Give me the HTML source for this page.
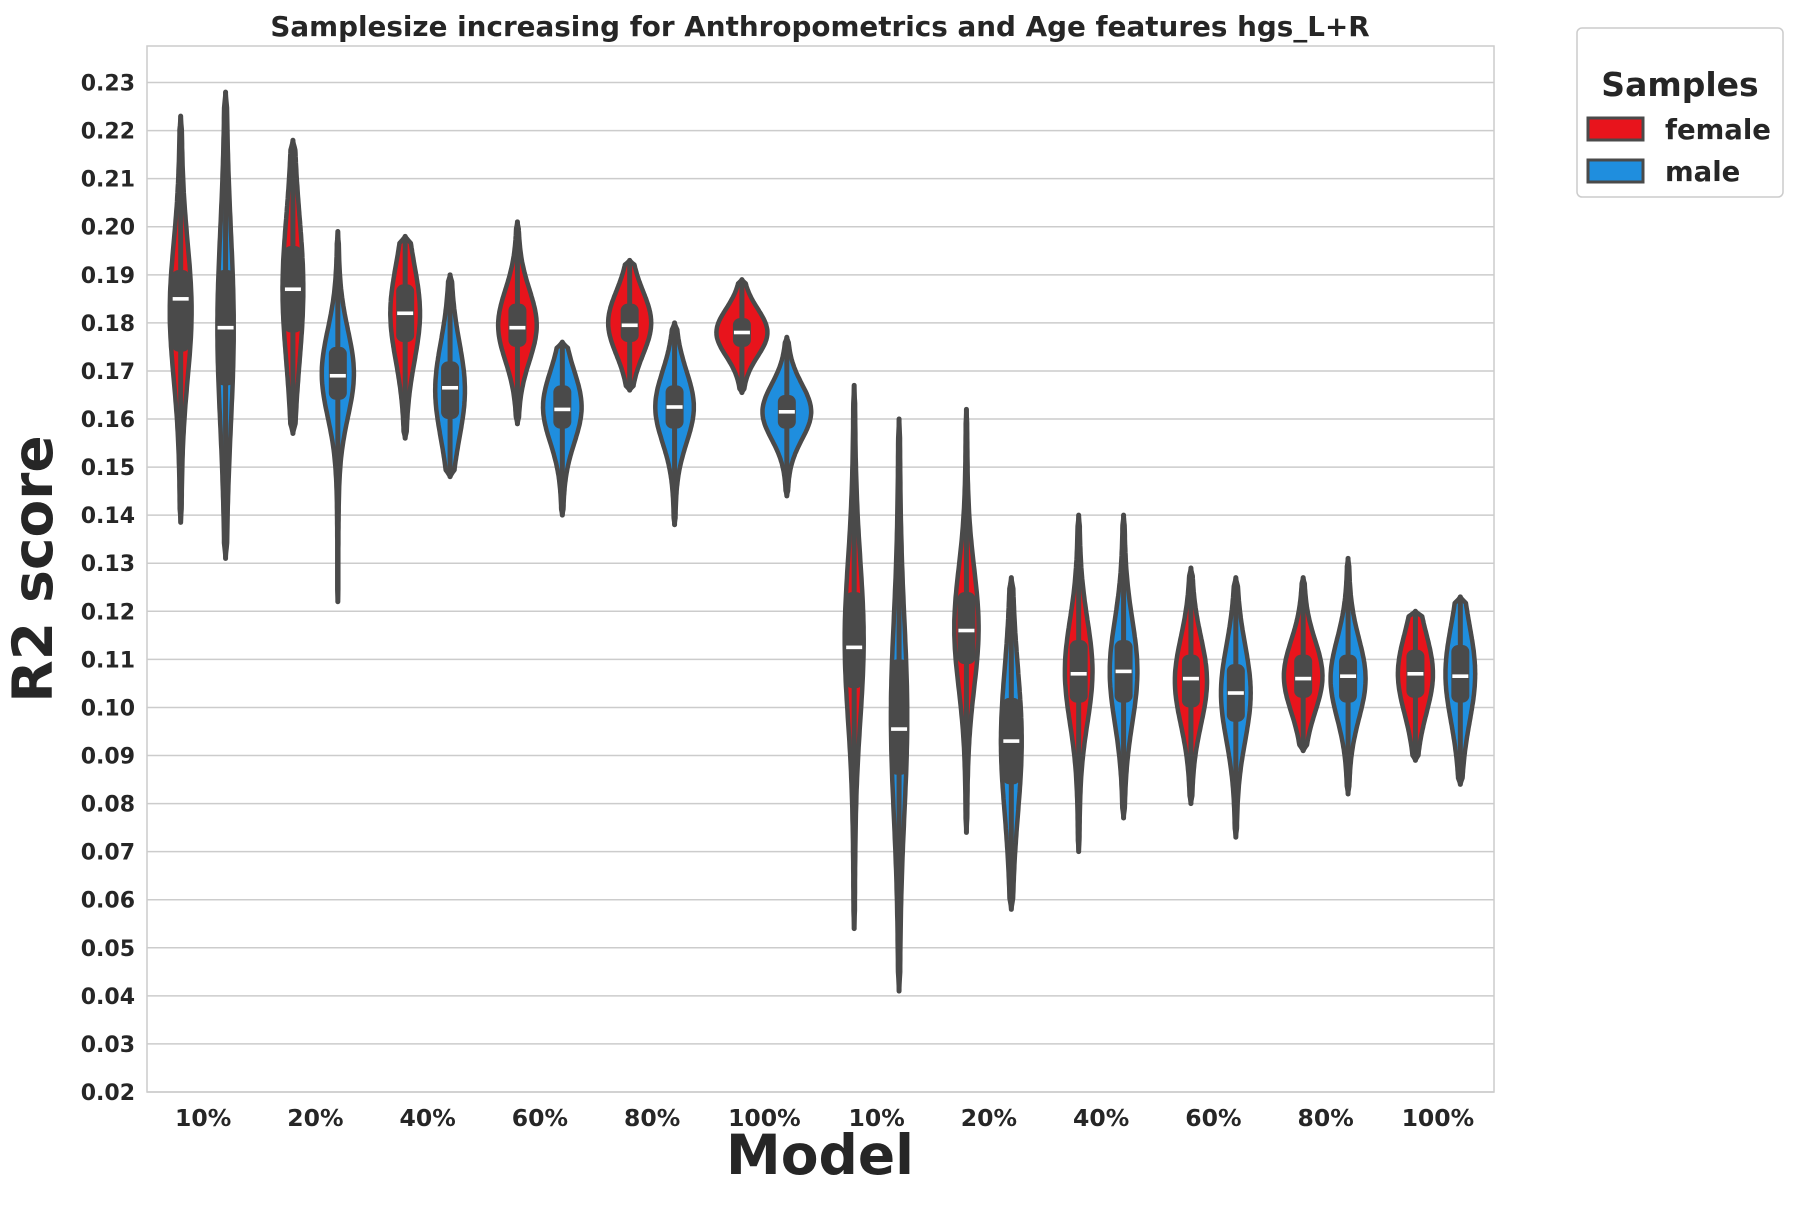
<!DOCTYPE html>
<html><head><meta charset="utf-8"><style>
html,body{margin:0;padding:0;background:#fff;}
svg text{font-family:"DejaVu Sans","Liberation Sans",sans-serif;font-weight:bold;fill:#262626;}
</style></head><body>
<svg id="chart" width="1800" height="1200" viewBox="0 0 1800 1200" xmlns="http://www.w3.org/2000/svg">
<g id="grid"></g>
<g id="violins"></g>
<rect x="147" y="46" width="1347" height="1046" fill="none" stroke="#cccccc" stroke-width="1.5"/>
<g id="yticks"></g>
<g id="xticks"></g>
<text x="820" y="36" text-anchor="middle" font-size="27.8">Samplesize increasing for Anthropometrics and Age features hgs_L+R</text>
<text transform="translate(52,569) rotate(-90)" text-anchor="middle" font-size="55">R2 score</text>
<text x="820" y="1174" text-anchor="middle" font-size="55">Model</text>
<g>
<rect x="1577" y="28" width="206" height="169" rx="5" fill="#fff" stroke="#cccccc" stroke-width="1.5"/>
<text x="1680" y="96" text-anchor="middle" font-size="33">Samples</text>
<g><rect x="1588" y="118" width="55" height="22" fill="#e8141c" stroke="#4a4a4a" stroke-width="3"/><text x="1665" y="139" font-size="27.5">female</text></g>
<g><rect x="1588" y="160" width="55" height="22" fill="#1f8ede" stroke="#4a4a4a" stroke-width="3"/><text x="1665" y="181" font-size="27.5">male</text></g>
</g>
</svg>
<script>
const categories=["10%","20%","40%","60%","80%","100%","10%","20%","40%","60%","80%","100%"];
const yTicks=[0.02,0.03,0.04,0.05,0.06,0.07,0.08,0.09,0.10,0.11,0.12,0.13,0.14,0.15,0.16,0.17,0.18,0.19,0.20,0.21,0.22,0.23];
const femaleMin=[0.1385,0.157,0.156,0.159,0.166,0.1655,0.054,0.074,0.070,0.080,0.091,0.089];
const femaleMax=[0.223,0.218,0.198,0.201,0.193,0.189,0.167,0.162,0.140,0.129,0.127,0.120];
const femaleQ1=[0.174,0.178,0.176,0.175,0.176,0.175,0.104,0.109,0.101,0.100,0.102,0.102];
const femaleMedian=[0.185,0.187,0.182,0.179,0.1795,0.178,0.1125,0.116,0.107,0.106,0.106,0.107];
const femaleQ3=[0.191,0.196,0.188,0.184,0.184,0.181,0.124,0.124,0.114,0.111,0.111,0.112];
const maleMin=[0.131,0.122,0.148,0.140,0.138,0.144,0.041,0.058,0.077,0.073,0.082,0.084];
const maleMax=[0.228,0.199,0.190,0.176,0.180,0.177,0.160,0.127,0.140,0.127,0.131,0.123];
const maleQ1=[0.167,0.164,0.160,0.158,0.158,0.158,0.086,0.084,0.101,0.097,0.101,0.101];
const maleMedian=[0.179,0.169,0.1665,0.162,0.1625,0.1615,0.0955,0.093,0.1075,0.103,0.1065,0.1065];
const maleQ3=[0.191,0.175,0.172,0.167,0.167,0.165,0.110,0.102,0.114,0.109,0.111,0.113];

const L=147,R=1494,T=46,B=1092,Y0=0.02,Y1=0.2376;
const bw=(R-L)/categories.length;
function yScale(v){return B-(v-Y0)/(Y1-Y0)*(B-T);}
function xScale(i){return L+(i+0.5)*bw;}
const NS="http://www.w3.org/2000/svg";
function mk(tag,attrs,parent){const e=document.createElementNS(NS,tag);for(const k in attrs)e.setAttribute(k,attrs[k]);parent.appendChild(e);return e;}
const grid=document.getElementById('grid'),yt=document.getElementById('yticks'),xt=document.getElementById('xticks'),vg=document.getElementById('violins');
yTicks.forEach(v=>{
  const l=mk('line',{x1:L,x2:R,y1:yScale(v),y2:yScale(v),stroke:'#cccccc','stroke-width':1.5},grid);
  
  
  const t=mk('text',{x:L-12,y:yScale(v)+8,'text-anchor':'end','font-size':22},yt);
  t.textContent=v.toFixed(2);
  
  
});
categories.forEach((c,i)=>{
  const t=mk('text',{x:xScale(i),y:B+34,'text-anchor':'middle','font-size':23.5},xt);
  t.textContent=c;
  
  
});
function violin(cx,mn,mx,q1,md,q3,color,name){
  const g=mk('g',{},vg);
  
  
  const iqr=q3-q1, s=iqr/1.35;
  let peak=Math.min(0.16/iqr,24);
  const lo=mn, hi=mx, n=90;
  const pts=[];
  const c=(q1+q3)/2;
  for(let k=0;k<=n;k++){
    const v=lo+(hi-lo)*k/n;
    let w=peak*Math.exp(-0.5*Math.pow((v-c)/(s*1.1),2));
    w+=1.5*Math.exp(-0.5*Math.pow((v-c)/(s*3),2));
    const edge=Math.min(v-lo,hi-v)/(hi-lo);
    w=Math.max(w,0.5)*Math.min(1,edge*30);
    pts.push([v,w]);
  }
  let d='';
  pts.forEach((p,k)=>{d+=(k?'L':'M')+(cx-p[1]).toFixed(1)+','+yScale(p[0]).toFixed(1);});
  for(let k=pts.length-1;k>=0;k--){d+='L'+(cx+pts[k][1]).toFixed(1)+','+yScale(pts[k][0]).toFixed(1);}
  d+='Z';
  mk('path',{d:d,fill:color,stroke:'#4a4a4a','stroke-width':4.5,'stroke-linejoin':'round'},g);
  mk('line',{x1:cx,x2:cx,y1:yScale(mn),y2:yScale(mx),stroke:'#4a4a4a','stroke-width':5,'stroke-linecap':'round'},g);
  mk('rect',{x:cx-9,y:yScale(q3),width:18,height:yScale(q1)-yScale(q3),rx:7,fill:'#4a4a4a'},g);
  mk('rect',{x:cx-8,y:yScale(md)-1.8,width:16,height:3.6,fill:'#ffffff'},g);
}
categories.forEach((c,i)=>{
  const off=bw*0.2;
  violin(xScale(i)-off,femaleMin[i],femaleMax[i],femaleQ1[i],femaleMedian[i],femaleQ3[i],'#e8141c','violin-female-'+i);
  violin(xScale(i)+off,maleMin[i],maleMax[i],maleQ1[i],maleMedian[i],maleQ3[i],'#1f8ede','violin-male-'+i);
});
</script>
</body></html>
